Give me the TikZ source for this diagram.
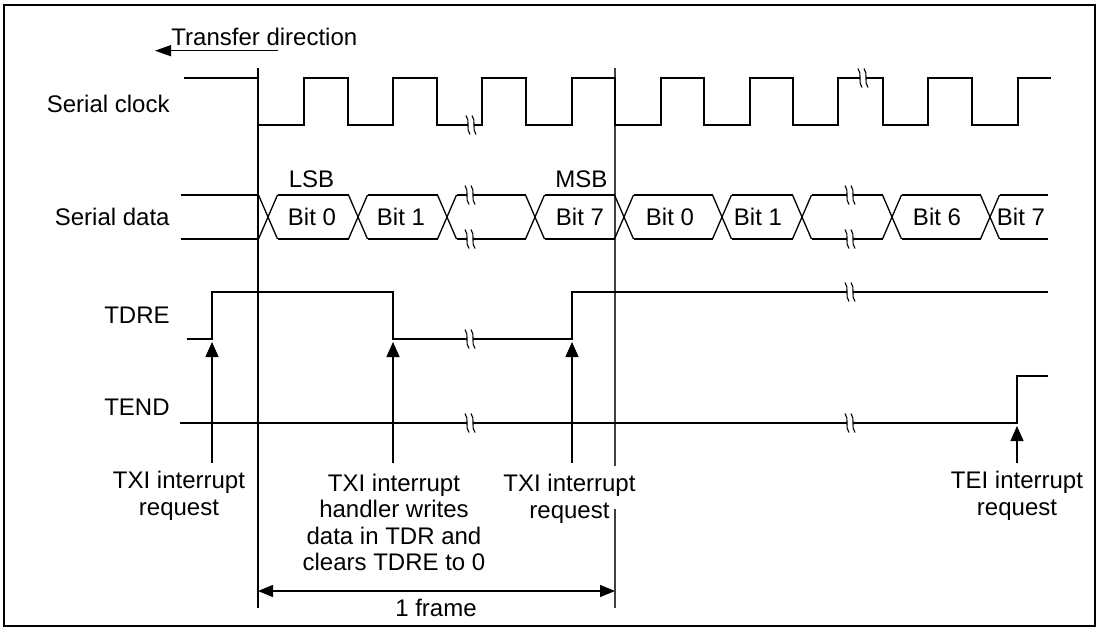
\documentclass[tikz,border=0pt]{standalone}
\usepackage{fontspec}
\setmainfont{Liberation Sans}
\usetikzlibrary{arrows.meta}
\begin{document}
\begin{tikzpicture}[x=0.5pt,y=-0.5pt,
  sig/.style={line width=0.65pt, line join=miter},
  refline/.style={line width=0.65pt},
  lbl/.style={font=\fontsize{12}{13.25}\selectfont, inner sep=0pt, align=center},
  req/.style={sig, -{Triangle[length=7.5pt,width=6.5pt]}},
  brk/.pic={
    \fill[white] (-3,-2.5) rectangle (3,2.5);
    \draw[line width=0.55pt] (-5,-9.5) .. controls (-0.5,-4) and (-5.5,4) .. (-1,9.5);
    \draw[line width=0.55pt] (1,-9.5) .. controls (5.5,-4) and (0.5,4) .. (5,9.5);
  }]
\useasboundingbox (0,0) rectangle (1100,632);
\draw[line width=0.9pt] (4,5) rectangle (1095,626);

% transfer direction
\node[lbl, anchor=base west] (tdir) at (171,45) {Transfer direction};
\coordinate (tdA) at (278,50.7);
\coordinate (tdB) at (155,50.7);
\draw[sig, -{Triangle[length=8pt,width=5.5pt]}] (tdA) -- (tdB);

% left labels
\node[lbl, anchor=base east] (lclk) at (170,112.3) {Serial clock};
\node[lbl, anchor=base east] (ldat) at (170,225) {Serial data};
\node[lbl, anchor=base east] (ltdre) at (170,323.3) {TDRE};
\node[lbl, anchor=base east] (ltend) at (170,415) {TEND};

% reference lines
\coordinate (v1t) at (258,68);
\coordinate (v1b) at (258,608);
\coordinate (v2t) at (615,68);
\coordinate (v2m) at (615,466);
\coordinate (v2n) at (615,509);
\coordinate (v2b) at (615,608);
\draw[refline] (v1t) -- (v1b);
\draw[refline, black!75] (v2t) -- (v2m);
\draw[refline, black!75] (v2n) -- (v2b);

% serial clock
\draw[sig] (184,78) -- (258,78) -- (258,125) -- (304,125) -- (304,78) -- (348,78) -- (348,125)
  -- (393,125) -- (393,78) -- (437,78) -- (437,125) -- (482,125) -- (482,78) -- (526,78)
  -- (526,125) -- (572,125) -- (572,78) -- (615,78) -- (615,125) -- (661,125) -- (661,78)
  -- (704,78) -- (704,125) -- (750,125) -- (750,78) -- (793,78) -- (793,125) -- (838,125)
  -- (838,78) -- (883,78) -- (883,125) -- (928,125) -- (928,78) -- (972,78) -- (972,125)
  -- (1018,125) -- (1018,78) -- (1051,78);
\pic at (471,125) {brk};
\pic at (863,78) {brk};

% serial data
\foreach \c in {268,358,447,535,624,722,802,892,990} {
  \draw[sig] (\c-9.5,195) -- (\c+9.5,239);
  \draw[sig] (\c-9.5,239) -- (\c+9.5,195);
}
\foreach \a/\b in {181/258.5, 367.5/437.5, 277.5/348.5, 456.5/525.5, 544.5/614.5,
  633.5/712.5, 731.5/792.5, 811.5/882.5, 901.5/980.5, 999.5/1048} {
  \draw[sig] (\a,195) -- (\b,195);
  \draw[sig] (\a,239) -- (\b,239);
}
\pic at (470,195) {brk};
\pic at (470,239) {brk};
\pic at (850,195) {brk};
\pic at (850,239) {brk};
\node[lbl, anchor=base] (b0) at (312,225) {Bit 0};
\node[lbl, anchor=base] (b1) at (401,225) {Bit 1};
\node[lbl, anchor=base] (b7) at (580,225) {Bit 7};
\node[lbl, anchor=base] (b0b) at (670,225) {Bit 0};
\node[lbl, anchor=base] (b1b) at (758,225) {Bit 1};
\node[lbl, anchor=base] (b6) at (937,225) {Bit 6};
\node[lbl, anchor=base] (b7b) at (1021,225) {Bit 7};
\node[lbl, anchor=base] (lsb) at (311.5,187.3) {LSB};
\node[lbl, anchor=base] (msb) at (581.5,187.3) {MSB};

% TDRE
\draw[sig] (187,339) -- (212,339) -- (212,292) -- (393,292) -- (393,339) -- (572,339)
  -- (572,292) -- (1048,292);
\pic at (470,339) {brk};
\pic at (850,292) {brk};

% TEND
\draw[sig] (180,423) -- (1017,423) -- (1017,376) -- (1048,376);
\pic at (470,423) {brk};
\pic at (850,423) {brk};

% request arrows
\coordinate (r1b) at (212,463);  \coordinate (r1t) at (212,342);
\coordinate (r2b) at (393,463);  \coordinate (r2t) at (393,342);
\coordinate (r3b) at (572,463);  \coordinate (r3t) at (572,342);
\coordinate (r4b) at (1017,463); \coordinate (r4t) at (1017,426);
\draw[req] (r1b) -- (r1t);
\draw[req] (r2b) -- (r2t);
\draw[req] (r3b) -- (r3t);
\draw[req] (r4b) -- (r4t);

% labels (base anchor = baseline of last line)
\node[lbl, anchor=base] (txi1) at (179,515.4) {TXI interrupt\\request};
\node[lbl, anchor=base] (txi2) at (394,570.9) {TXI interrupt\\handler writes\\data in TDR and\\clears TDRE to 0};
\node[lbl, anchor=base] (txi3) at (569.5,518) {TXI interrupt\\request};
\node[lbl, anchor=base] (tei) at (1017,515.4) {TEI interrupt\\request};

% frame
\coordinate (fA) at (258,591);
\coordinate (fB) at (615,591);
\draw[sig, {Triangle[length=7.5pt,width=6pt]}-{Triangle[length=7.5pt,width=6pt]}] (fA) -- (fB);
\node[lbl, anchor=base] (frm) at (436,616.5) {1 frame};
\end{tikzpicture}
\end{document}
